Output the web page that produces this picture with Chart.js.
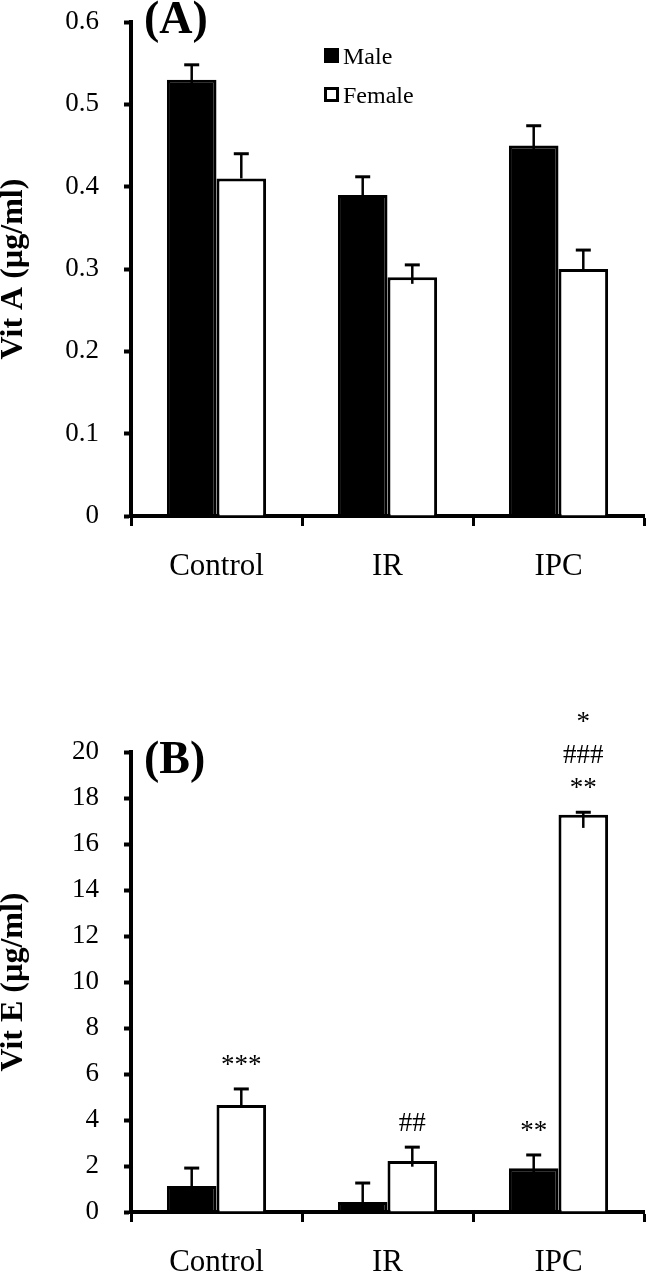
<!DOCTYPE html>
<html>
<head>
<meta charset="utf-8">
<script src="https://cdn.jsdelivr.net/npm/chart.js@4.4.1/dist/chart.umd.min.js"></script>
<style>
  html, body { margin: 0; padding: 0; background: #fff; }
  body { width: 646px; height: 1276px; position: relative; overflow: hidden; }
  #wrapA { position: absolute; left: 0; top: 0; width: 646px; height: 600px; }
  #wrapB { position: absolute; left: 0; top: 620px; width: 646px; height: 656px; }
</style>
</head>
<body>
<div id="wrapA"><canvas id="chartA" width="646" height="600"></canvas></div>
<div id="wrapB"><canvas id="chartB" width="646" height="656"></canvas></div>
<script>
// ---- Data ----
const categories = ['Control', 'IR', 'IPC'];
const seriesNames = ['Male', 'Female'];

// Panel A: Vit A (µg/ml)
const vitAMale = [0.53, 0.39, 0.45];
const vitAFemale = [0.41, 0.29, 0.30];
const vitAMaleErrHigh = [0.018, 0.022, 0.024];
const vitAMaleErrLow = [0.018, 0.022, 0.024];
const vitAFemaleErrHigh = [0.03, 0.015, 0.023];
const vitAFemaleErrLow = [0, 0.008, 0];
const vitATicks = [0, 0.1, 0.2, 0.3, 0.4, 0.5, 0.6];

// Panel B: Vit E (µg/ml)
const vitEMale = [1.13, 0.43, 1.9];
const vitEFemale = [4.65, 2.22, 17.27];
const vitEMaleErrHigh = [0.78, 0.83, 0.58];
const vitEMaleErrLow = [0.78, 0.43, 0.58];
const vitEFemaleErrHigh = [0.7, 0.6, 0.11];
const vitEFemaleErrLow = [0, 0.25, 0.57];
const vitETicks = [0, 2, 4, 6, 8, 10, 12, 14, 16, 18, 20];

// Significance marks (listed from bottom line to top line)
const sigEMale = [[], [], ['**']];
const sigEFemale = [['***'], ['##'], ['**', '###', '*']];

const SERIF = "'Liberation Serif', 'Times New Roman', serif";

// ---- Plugins ----
const errorBarPlugin = {
  id: 'errorBars',
  afterDatasetsDraw(chart) {
    const ctx = chart.ctx;
    const yScale = chart.scales.y;
    chart.data.datasets.forEach((ds, di) => {
      const meta = chart.getDatasetMeta(di);
      meta.data.forEach((bar, i) => {
        const v = ds.data[i];
        const yTop = yScale.getPixelForValue(v + ds.errHigh[i]);
        const yBot = yScale.getPixelForValue(v - ds.errLow[i]);
        ctx.save();
        ctx.strokeStyle = '#000';
        ctx.lineWidth = 2.5;
        ctx.beginPath();
        ctx.moveTo(bar.x, yBot);
        ctx.lineTo(bar.x, yTop);
        ctx.stroke();
        ctx.lineWidth = 3;
        ctx.beginPath();
        ctx.moveTo(bar.x - 7.5, yTop);
        ctx.lineTo(bar.x + 7.5, yTop);
        ctx.stroke();
        ctx.restore();
      });
    });
  }
};

const sigPlugin = {
  id: 'sigMarks',
  afterDatasetsDraw(chart) {
    const ctx = chart.ctx;
    const yScale = chart.scales.y;
    chart.data.datasets.forEach((ds, di) => {
      if (!ds.sig) return;
      const meta = chart.getDatasetMeta(di);
      meta.data.forEach((bar, i) => {
        const lines = ds.sig[i] || [];
        const capY = yScale.getPixelForValue(ds.data[i] + ds.errHigh[i]);
        ctx.save();
        ctx.fillStyle = '#000';
        ctx.font = '27px ' + SERIF;
        ctx.textAlign = 'center';
        ctx.textBaseline = 'alphabetic';
        lines.forEach((t, k) => {
          ctx.fillText(t, bar.x, capY - 16 - 33 * k);
        });
        ctx.restore();
      });
    });
  }
};

const panelPlugin = {
  id: 'panelLabel',
  afterDraw(chart, args, opts) {
    const ctx = chart.ctx;
    ctx.save();
    ctx.fillStyle = '#000';
    ctx.font = 'bold 46px ' + SERIF;
    ctx.textAlign = 'left';
    ctx.textBaseline = 'alphabetic';
    ctx.fillText(opts.text, chart.chartArea.left + 13, chart.chartArea.top + opts.dy);
    ctx.restore();
  }
};

const legendPlugin = {
  id: 'customLegend',
  afterDraw(chart, args, opts) {
    if (!opts.show) return;
    const ctx = chart.ctx;
    ctx.save();
    ctx.font = '24px ' + SERIF;
    ctx.textAlign = 'left';
    ctx.textBaseline = 'alphabetic';
    chart.data.datasets.forEach((ds, di) => {
      const bx = opts.x, by = opts.y + di * 39;
      ctx.fillStyle = ds.backgroundColor;
      ctx.fillRect(bx, by, 15, 15);
      ctx.strokeStyle = '#000';
      ctx.lineWidth = 3;
      ctx.strokeRect(bx + 1.5, by + 1.5, 12, 12);
      ctx.fillStyle = '#000';
      ctx.fillText(ds.label, bx + 19, by + 16);
    });
    ctx.restore();
  }
};

function makeChart(canvasId, cfg) {
  const chart = new Chart(document.getElementById(canvasId), {
    type: 'bar',
    data: {
      labels: categories,
      datasets: [
        {
          label: seriesNames[0], data: cfg.male, errHigh: cfg.maleErrHigh, errLow: cfg.maleErrLow,
          sig: cfg.maleSig, backgroundColor: '#000000', borderColor: '#000000', borderWidth: 3,
          categoryPercentage: 0.58, barPercentage: 1.0
        },
        {
          label: seriesNames[1], data: cfg.female, errHigh: cfg.femaleErrHigh, errLow: cfg.femaleErrLow,
          sig: cfg.femaleSig, backgroundColor: '#ffffff', borderColor: '#000000', borderWidth: 3,
          categoryPercentage: 0.58, barPercentage: 1.0
        }
      ]
    },
    options: {
      responsive: false,
      animation: false,
      devicePixelRatio: 1,
      layout: { padding: { top: cfg.areaTop, right: 2, left: 0, bottom: 0 } },
      plugins: {
        legend: { display: false },
        tooltip: { enabled: false },
        panelLabel: { text: cfg.panel, dy: cfg.panelDy },
        customLegend: { show: cfg.showLegend, x: 324, y: 48 }
      },
      scales: {
        x: {
          z: 1,
          grid: { display: true, drawOnChartArea: false, drawTicks: true, tickLength: 10, tickWidth: 3, tickColor: '#000', offset: true },
          border: { display: true, color: '#000', width: 4 },
          ticks: { color: '#000', font: { family: SERIF, size: 31 }, padding: 22, maxRotation: 0 },
          afterFit: (s) => { s.height = cfg.xHeight; s.paddingLeft = 0; s.paddingRight = 0; }
        },
        y: {
          min: cfg.ticks[0],
          max: cfg.ticks[cfg.ticks.length - 1],
          afterBuildTicks: (s) => { s.ticks = cfg.ticks.map(v => ({ value: v })); },
          grid: { display: true, drawOnChartArea: false, drawTicks: true, tickLength: 7, tickWidth: 4, tickColor: '#000' },
          border: { display: true, color: '#000', width: 4 },
          ticks: { color: '#000', font: { family: SERIF, size: 27 }, padding: 25 },
          title: {
            display: true, text: cfg.yTitle, color: '#000',
            font: { family: SERIF, size: 32, weight: 'bold', lineHeight: 0.84 },
            padding: { top: 0, bottom: 0 }
          },
          afterFit: (s) => { s.width = 131; s.paddingTop = 0; s.paddingBottom = 0; }
        }
      }
    },
    plugins: [errorBarPlugin, sigPlugin, panelPlugin, legendPlugin]
  });
  // Nudge layout padding so that the plot area top lands where the figure has it
  for (let k = 0; k < 3; k++) {
    const delta = cfg.areaTop - chart.chartArea.top;
    if (Math.abs(delta) < 0.5) break;
    chart.options.layout.padding.top = Math.max(0, chart.options.layout.padding.top + delta);
    chart.update('none');
  }
  return chart;
}

makeChart('chartA', {
  male: vitAMale, female: vitAFemale,
  maleErrHigh: vitAMaleErrHigh, maleErrLow: vitAMaleErrLow,
  femaleErrHigh: vitAFemaleErrHigh, femaleErrLow: vitAFemaleErrLow,
  maleSig: null, femaleSig: null,
  ticks: vitATicks, yTitle: 'Vit A (µg/ml)', panel: '(A)', panelDy: 11,
  showLegend: true, areaTop: 22, xHeight: 84
});

makeChart('chartB', {
  male: vitEMale, female: vitEFemale,
  maleErrHigh: vitEMaleErrHigh, maleErrLow: vitEMaleErrLow,
  femaleErrHigh: vitEFemaleErrHigh, femaleErrLow: vitEFemaleErrLow,
  maleSig: sigEMale, femaleSig: sigEFemale,
  ticks: vitETicks, yTitle: 'Vit E (µg/ml)', panel: '(B)', panelDy: 21,
  showLegend: false, areaTop: 132, xHeight: 64
});
</script>
</body>
</html>
